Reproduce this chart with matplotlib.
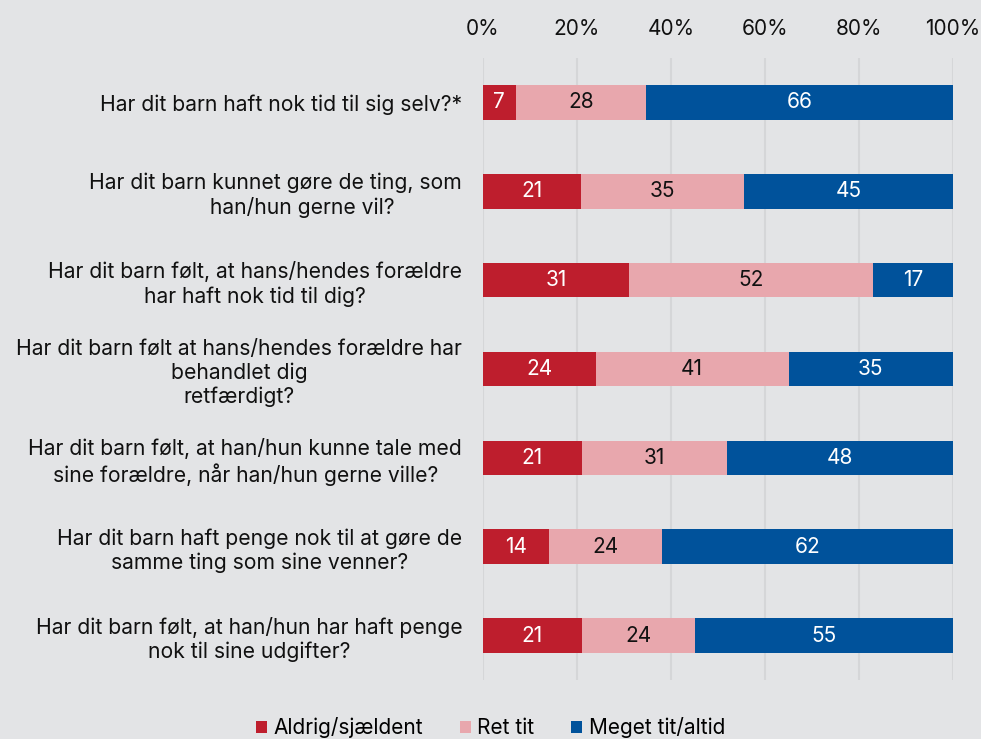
import numpy as np
import matplotlib
matplotlib.use('Agg')
import matplotlib.pyplot as plt

plt.rcParams['font.family'] = ['Inter', 'DejaVu Sans']

questions = [
    "Har dit barn haft nok tid til sig selv?*",
    "Har dit barn kunnet gøre de ting, som\n         han/hun gerne vil?",
    "Har dit barn følt, at hans/hendes forældre\nhar haft nok tid til dig?",
    "Har dit barn følt at hans/hendes forældre har\nbehandlet dig\nretfærdigt?",
    "Har dit barn følt, at han/hun kunne tale med\nsine forældre, når han/hun gerne ville?",
    "Har dit barn haft penge nok til at gøre de\nsamme ting som sine venner?",
    "Har dit barn følt, at han/hun har haft penge\nnok til sine udgifter?",
]
aldrig = [7, 21, 31, 24, 21, 14, 21]
ret_tit = [28, 35, 52, 41, 31, 24, 24]
meget = [66, 45, 17, 35, 48, 62, 55]

series = [
    ("Aldrig/sjældent", aldrig, "#be1e2d", "white"),
    ("Ret tit", ret_tit, "#e8a7ad", "#111111"),
    ("Meget tit/altid", meget, "#00529b", "white"),
]

bg = "#e3e4e6"
fig = plt.figure(figsize=(9.81, 7.39), dpi=100, facecolor=bg)
ax = fig.add_axes([0.4924, 0.0798, 0.4791, 0.8417], facecolor=bg)

y = np.arange(len(questions))
totals = np.array(aldrig) + np.array(ret_tit) + np.array(meget)
left = np.zeros(len(questions))
for name, vals, color, tcolor in series:
    w = np.array(vals) / totals * 100
    ax.barh(y, w, left=left, height=0.39, color=color, label=name, zorder=3)
    for yi, (l, wi, v) in enumerate(zip(left, w, vals)):
        ax.text(l + wi / 2, yi, str(v), ha='center', va='center',
                color=tcolor, fontsize=15, zorder=4)
    left += w

ax.set_xlim(0, 100)
ax.set_ylim(6.5, -0.5)
ax.set_xticks(np.arange(0, 101, 20))
ax.set_xticklabels([f"{t}%" for t in range(0, 101, 20)])
ax.xaxis.tick_top()
ax.tick_params(axis='x', length=0, pad=14, labelsize=15, colors='#111111')
ax.set_yticks(y)
ax.set_yticklabels(questions, fontsize=15.2, multialignment='center',
                   color='#111111', linespacing=1.24)
ax.tick_params(axis='y', length=0, pad=15)
ax.grid(axis='x', color='#d5d6d8', linewidth=1.5, zorder=0)
for s in ax.spines.values():
    s.set_visible(False)

leg = fig.legend(loc='center', bbox_to_anchor=(0.5, 0.015), ncol=3, frameon=False,
                 fontsize=15, handlelength=0.55, handleheight=0.55,
                 handletextpad=0.3, columnspacing=1.75)

fig.savefig("out.png", dpi=100, facecolor=bg)
